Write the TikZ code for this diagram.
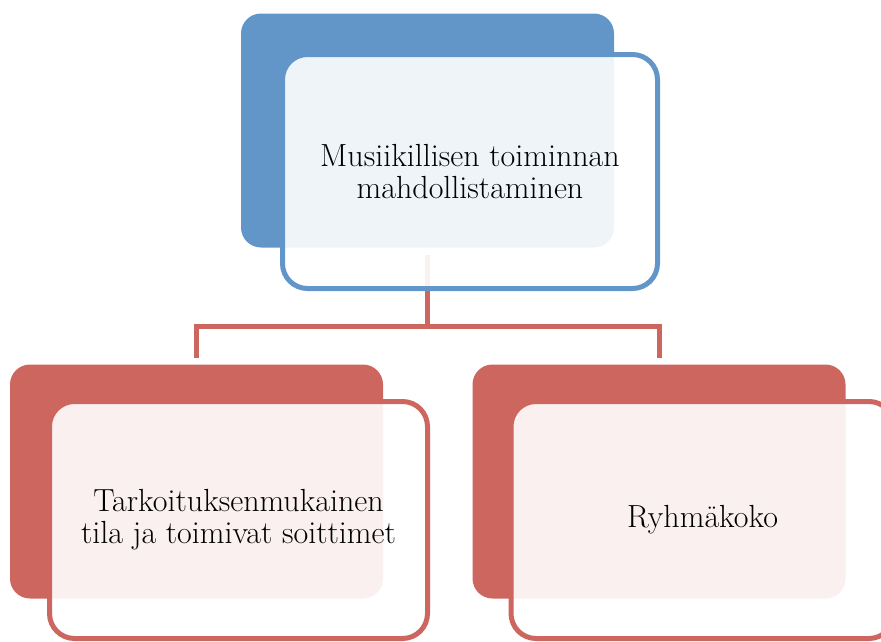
\documentclass[tikz,border=0pt]{standalone}
\usetikzlibrary{positioning,calc}
\definecolor{topblue}{RGB}{98,150,200}
\definecolor{subred}{RGB}{205,102,95}

\begin{document}
\begin{tikzpicture}[x=1pt,y=-1pt,
		backbox/.style={fill=#1, draw=none, rounded corners=20pt, minimum width=373pt, minimum height=234pt, inner sep=0pt},
		frontbox/.style={draw=#1, line width=5pt, fill=white, fill opacity=0.9, text opacity=1, rounded corners=25pt, minimum width=375pt, minimum height=234pt, align=center, inner sep=0pt, font=\fontsize{32}{32}\selectfont},
		link/.style={draw=subred, line width=5pt, shorten <=7pt, shorten >=6pt}]

		\clip (0,0) rectangle (881,641);

		% back cards
		\node[backbox=topblue] (topback) at (427.5,130.5) {};
		\node[backbox=subred] (leftback) at (196.5,481.5) {};
		\node[backbox=subred] (rightback) at (659,481.5) {};

		% connectors
		\coordinate (hub) at (427.5,326);
		\draw[link] (topback.south) -- (hub) -| (leftback.north);
		\draw[link, shorten <=0pt] (hub) -| (rightback.north);

		% front cards
		\node[frontbox=topblue] (topfront) at (470,171.5) {Musiikillisen toiminnan\\mahdollistaminen};
		\node[frontbox=subred, minimum width=378pt, minimum height=237pt] (leftfront) at (238.5,520) {Tarkoituksenmukainen\\tila ja toimivat soittimet};
		\node[frontbox=subred, minimum width=383pt, minimum height=237pt] (rightfront) at (702.5,520) {Ryhmäkoko};
\end{tikzpicture}
\end{document}
